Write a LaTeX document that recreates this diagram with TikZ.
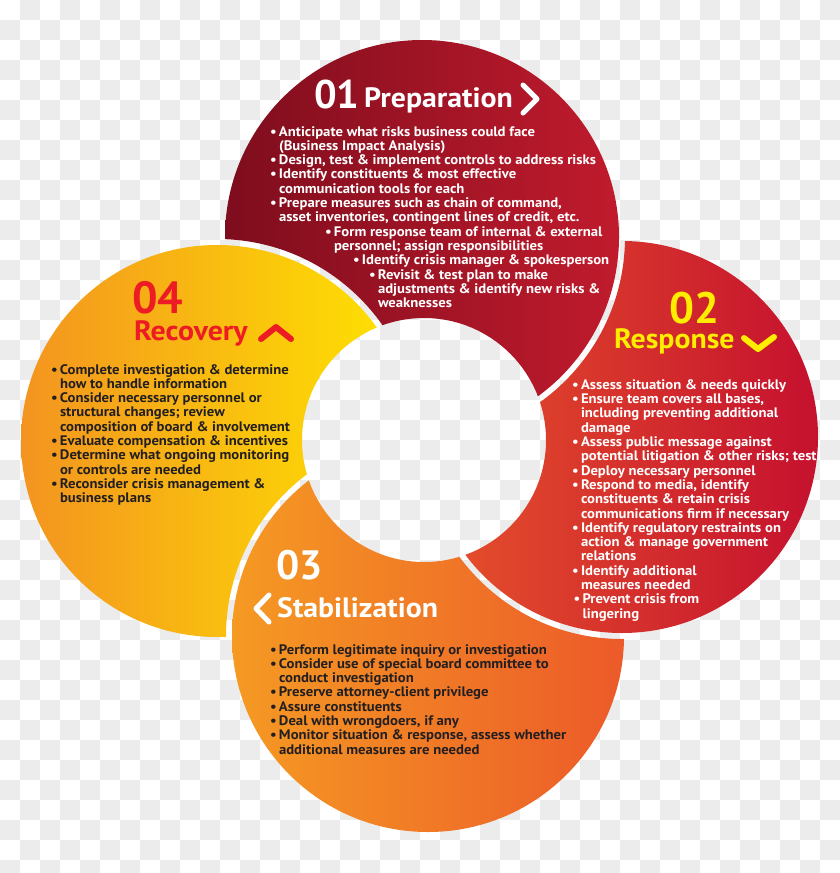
\documentclass[tikz,border=0pt]{standalone}
\usepackage{fontspec}
\setmainfont{PT Sans}
\newfontfamily\wide{PT Sans}[FakeStretch=1.065]
\definecolor{chk}{RGB}{236,236,236}
\definecolor{pOa}{HTML}{7E0D1D}
\definecolor{pOb}{HTML}{C01B2D}
\definecolor{pTa}{HTML}{E6522B}
\definecolor{pTb}{HTML}{C5112E}
\definecolor{pHa}{HTML}{F59A23}
\definecolor{pHb}{HTML}{EC5A29}
\definecolor{pFa}{HTML}{F39420}
\definecolor{pFb}{HTML}{FFE500}
\definecolor{ttlY}{HTML}{FFED00}
\definecolor{ttlR}{HTML}{ED1C24}
\definecolor{txtK}{HTML}{231F20}
\newcommand\itm[2]{\hspace*{#1pt}\makebox[9pt][l]{•}#2\par}
\newcommand\cnt[2]{\hspace*{#1pt}\hspace*{9pt}#2\par}
\newcommand\blk[1]{\vtop{\hsize=400pt\parindent=0pt\wide\fontsize{13.8}{14.3}\selectfont\bfseries\lineskiplimit=-20pt #1}}
\tikzset{
  body/.style={anchor=base west, inner sep=0pt, outer sep=0pt},
  numtxt/.style={anchor=base west, inner sep=0pt, font=\bfseries},
  ttltxt/.style={anchor=base west, inner sep=0pt},
  chev/.style={line width=5pt, line cap=round, line join=round},
}
\begin{document}
\begin{tikzpicture}[x=1pt,y=-1pt]
\useasboundingbox (0pt,0pt) rectangle (840pt,-873pt);
% background checkerboard (grey squares of 20 px)
\foreach \cc in {0,2,...,40} {
  \foreach \rr in {1,3,...,43} {
    \fill[chk] (\cc*20pt,-\rr*20pt) rectangle ++(20pt,-20pt);
  }
}
\foreach \cc in {1,3,...,41} {
  \foreach \rr in {0,2,...,42} {
    \fill[chk] (\cc*20pt,-\rr*20pt) rectangle ++(20pt,-20pt);
  }
}
% geometry
\coordinate (O) at (424,440);
\coordinate (C1) at (422,237);
\coordinate (C2) at (622,437);
\coordinate (C3) at (428,636);
\coordinate (C4) at (217,441);
% petal 1 (cut by 4)
\begin{scope}[even odd rule]
  \clip (C1) circle (197pt);
  \clip (-50,-50) rectangle (900,950) (C4) circle (202pt);
  \clip (-50,-50) rectangle (900,950) (O) circle (122pt);
  \shade[left color=pOa, right color=pOb] (C1) circle (197pt);
\end{scope}
% petal 2 (cut by 1)
\begin{scope}[even odd rule]
  \clip (C2) circle (196pt);
  \clip (-50,-50) rectangle (900,950) (C1) circle (203pt);
  \clip (-50,-50) rectangle (900,950) (O) circle (122pt);
  \shade[left color=pTa, right color=pTb] (C2) circle (196pt);
\end{scope}
% petal 3 (cut by 2)
\begin{scope}[even odd rule]
  \clip (C3) circle (196pt);
  \clip (-50,-50) rectangle (900,950) (C2) circle (202pt);
  \clip (-50,-50) rectangle (900,950) (O) circle (122pt);
  \shade[left color=pHa, right color=pHb] (C3) circle (196pt);
\end{scope}
% petal 4 (cut by 3)
\begin{scope}[even odd rule]
  \clip (C4) circle (196pt);
  \clip (-50,-50) rectangle (900,950) (C3) circle (202pt);
  \clip (-50,-50) rectangle (900,950) (O) circle (122pt);
  \shade[left color=pFa, right color=pFb] (C4) circle (196pt);
\end{scope}
% titles
\node[numtxt, white, font=\fontsize{40}{40}\selectfont\bfseries] (n1) at (314,108) {01};
\node[ttltxt, white, font=\wide\fontsize{28}{28}\selectfont\bfseries] (t1) at (364,107) {Preparation};
\draw[chev, white] (523,85) -- (537,99) -- (523,113);
\node[numtxt, ttlY, font=\fontsize{44}{44}\selectfont\bfseries] (n2) at (669,323) {02};
\node[ttltxt, ttlY, font=\wide\fontsize{28}{28}\selectfont\bfseries] (t2) at (614,348) {Response};
\draw[chev, ttlY, line width=6pt] (744,338) -- (758,349) -- (774,337);
\node[numtxt, ttlR, font=\fontsize{45}{45}\selectfont\bfseries] (n4) at (132,313) {04};
\node[ttltxt, ttlR, font=\wide\fontsize{28}{28}\selectfont\bfseries] (t4) at (134,340) {Recovery};
\draw[chev, ttlR, line width=6pt] (261,339) -- (276,327) -- (291,339);
\node[numtxt, white, font=\fontsize{41}{41}\selectfont\bfseries] (n3) at (276,579) {03};
\node[ttltxt, white, font=\wide\fontsize{28}{28}\selectfont\bfseries] (t3) at (277,617) {Stabilization};
\draw[chev, white] (269,595) -- (256,608.5) -- (269,622);
% bodies
\node[body, white] (b1) at (270,136) {\blk{%
\itm{0}{Anticipate what risks business could face}
\cnt{0}{(Business Impact Analysis)}
\itm{0}{Design, test \& implement controls to address risks}
\itm{0}{Identify constituents \& most effective}
\cnt{0}{communication tools for each}
\itm{0}{Prepare measures such as chain of command,}
\cnt{0}{asset inventories, contingent lines of credit, etc.}
\itm{55}{Form response team of internal \& external}
\cnt{55}{personnel; assign responsibilities}
\itm{83}{Identify crisis manager \& spokesperson}
\itm{99}{Revisit \& test plan to make}
\cnt{99}{adjustments \& identify new risks \&}
\cnt{99}{weaknesses}}};
\node[body, white] (b2) at (572,389.3) {\blk{%
\itm{0}{Assess situation \& needs quickly}
\itm{0}{Ensure team covers all bases,}
\cnt{0}{including preventing additional}
\cnt{0}{damage}
\itm{0}{Assess public message against}
\cnt{0}{potential litigation \& other risks; test}
\itm{0}{Deploy necessary personnel}
\itm{0}{Respond to media, identify}
\cnt{0}{constituents \& retain crisis}
\cnt{0}{communications firm if necessary}
\itm{0}{Identify regulatory restraints on}
\cnt{0}{action \& manage government}
\cnt{0}{relations}
\itm{0}{Identify additional}
\cnt{0}{measures needed}
\itm{1.5}{Prevent crisis from}
\cnt{1.5}{lingering}}};
\node[body, txtK] (b4) at (51,374) {\blk{%
\itm{0}{Complete investigation \& determine}
\cnt{0}{how to handle information}
\itm{0}{Consider necessary personnel or}
\cnt{0}{structural changes; review}
\cnt{0}{composition of board \& involvement}
\itm{0}{Evaluate compensation \& incentives}
\itm{0}{Determine what ongoing monitoring}
\cnt{0}{or controls are needed}
\itm{0}{Reconsider crisis management \&}
\cnt{0}{business plans}}};
\node[body, txtK] (b3) at (270,654) {\blk{%
\itm{0}{Perform legitimate inquiry or investigation}
\itm{0}{Consider use of special board committee to}
\cnt{0}{conduct investigation}
\itm{0}{Preserve attorney-client privilege}
\itm{0}{Assure constituents}
\itm{0}{Deal with wrongdoers, if any}
\itm{0}{Monitor situation \& response, assess whether}
\cnt{0}{additional measures are needed}}};
\end{tikzpicture}
\end{document}
